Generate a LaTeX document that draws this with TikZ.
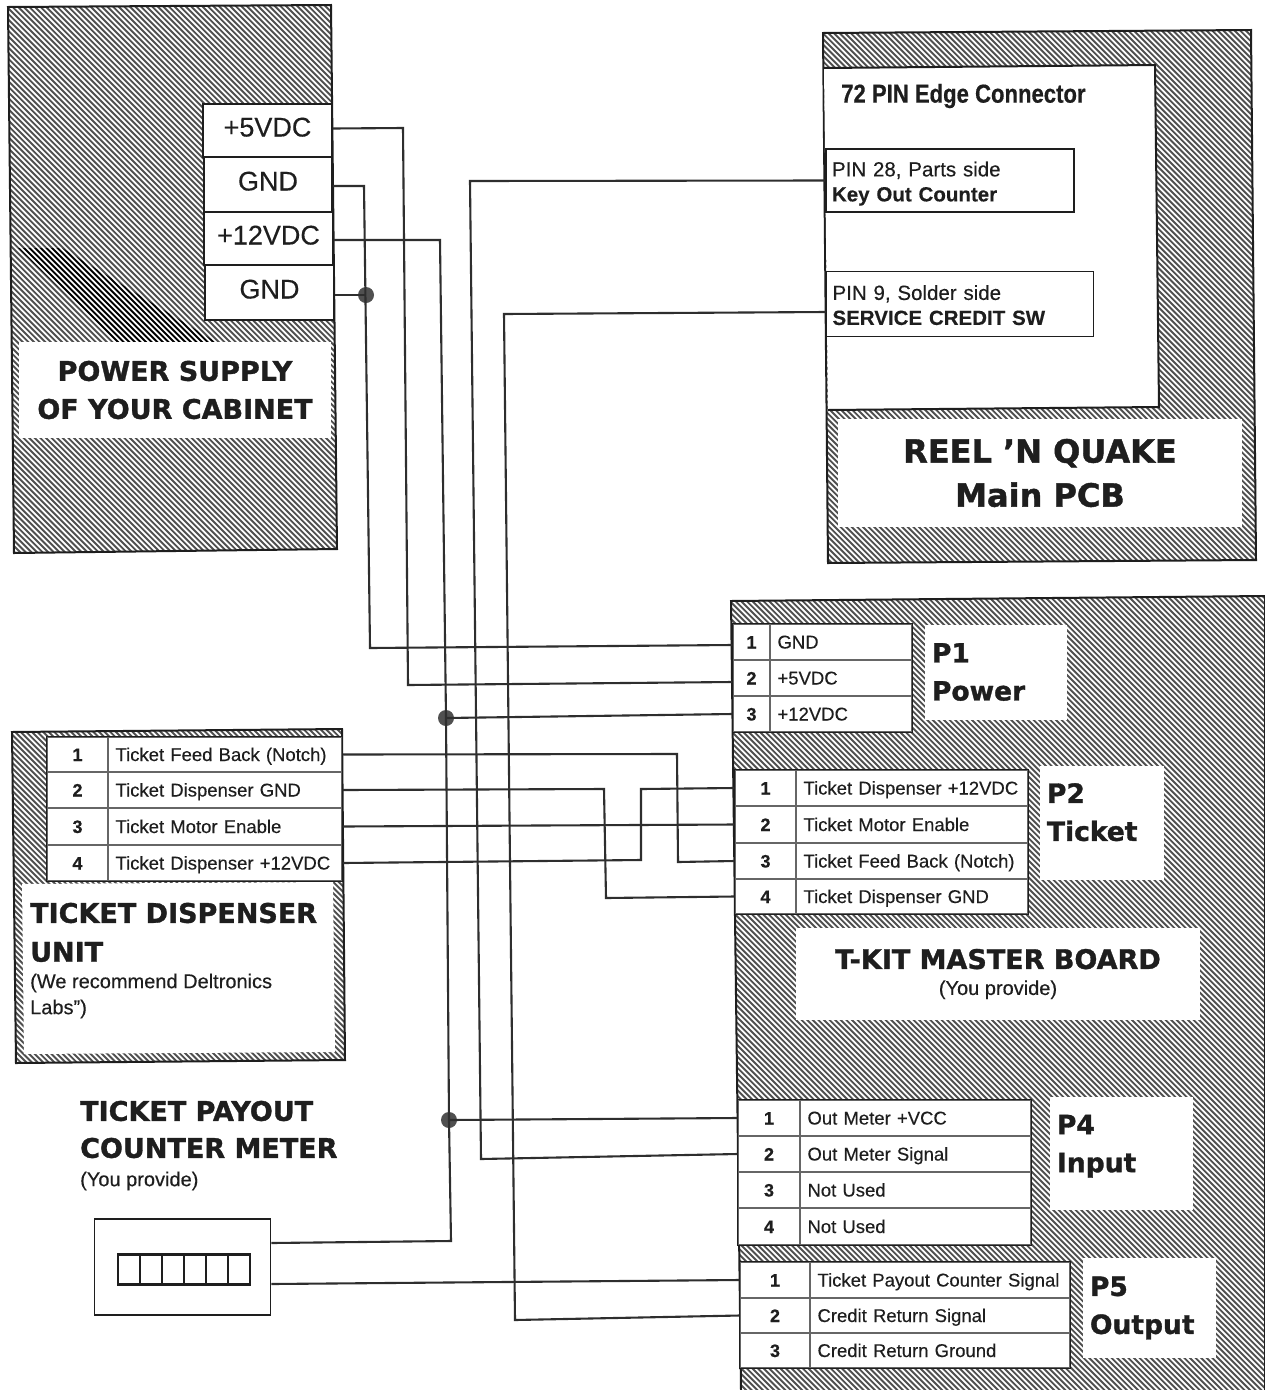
\documentclass[tikz,border=0pt]{standalone}
\usepackage{fontspec}
\setmainfont{Liberation Sans}[FakeBold=0.3]
\newfontfamily\heavyf{DejaVu Sans}[BoldFeatures={FakeBold=1.2}]
\newfontfamily\narrowf{Liberation Sans}[FakeStretch=0.85,BoldFeatures={FakeBold=0.5}]
\definecolor{ink}{HTML}{1E1E1E}
\definecolor{wire}{HTML}{2E2E2E}
\definecolor{hatchc}{HTML}{505050}
\tikzset{
  x=1pt,y=-1pt,
  every node/.style={text=ink},
  hatchline/.style={hatchc,line width=1.9pt},
  darkline/.style={black,line width=1.6pt},
  panelborder/.style={draw=ink,line width=2pt},
  wireline/.style={wire,line width=2.1pt,line join=miter},
  junction/.style={circle,fill=hatchc,draw=none,minimum size=16pt,inner sep=0pt},
  numcell/.style={draw=gray!80!black,fill=white,line width=1.2pt,inner sep=0pt,font=\bfseries\fontsize{18}{20}\selectfont,text height=13pt,text depth=0pt},
  labcell/.style={draw=gray!80!black,fill=white,line width=1.2pt,inner ysep=0pt,inner xsep=7.5pt,align=left,font=\fontsize{18.5}{20}\selectfont,text height=13pt,text depth=0pt},
  tableframe/.style={draw=ink,line width=1.7pt},
  termcell/.style={draw=ink,fill=white,line width=1.6pt,inner sep=0pt,font=\fontsize{27}{30}\selectfont,text height=19pt,text depth=7pt},
  pinbox/.style={draw=ink,fill=white,line width=1.8pt,inner ysep=0pt,inner xsep=6pt,align=left,font=\fontsize{20.5}{25}\selectfont},
  titlebox/.style={fill=white,inner sep=0pt,align=center,font=\heavyf\bfseries\fontsize{27}{38}\selectfont},
  sidebox/.style={fill=white,inner ysep=0pt,inner xsep=7pt,align=left,font=\heavyf\bfseries\fontsize{26.5}{38}\selectfont},
  bighead/.style={anchor=west,inner sep=0pt,font=\heavyf\bfseries\fontsize{27}{38}\selectfont},
  subhead/.style={anchor=west,inner sep=0pt,align=left,font=\fontsize{20}{26}\selectfont},
  plainbox/.style={draw=ink,fill=white,line width=1.8pt,inner sep=0pt},
}
\newcommand\hatcharea[1]{%
  \begin{scope}
    \clip #1;
    \foreach \k in {-1400,-1394.4,...,1300}
      \draw[hatchline] (\k,0) -- ++(1400,1400);
  \end{scope}
}
% name, x0, xmid, x1, y0, y1, number, label
\newcommand\trow[8]{%
  \pgfmathsetmacro\wa{#3-#2}%
  \pgfmathsetmacro\wb{#4-#3}%
  \pgfmathsetmacro\tw{#4-#3-15}%
  \pgfmathsetmacro\hh{#6-#5}%
  \pgfmathsetmacro\ca{(#2+#3)/2}%
  \pgfmathsetmacro\cb{(#3+#4)/2}%
  \pgfmathsetmacro\cc{(#5+#6)/2}%
  \node[numcell,minimum width=\wa pt,minimum height=\hh pt] (#1n) at (\ca,\cc) {#7};
  \node[labcell,text width=\tw pt,minimum height=\hh pt] (#1l) at (\cb,\cc) {#8};
}
\begin{document}
\begin{tikzpicture}
\useasboundingbox[fill=white] (0,0) rectangle (1265,1390);

%% ---------- hatched panels
\hatcharea{(8,7)--(331,5)--(337,549)--(14,553)--cycle}
\begin{scope}
  \clip (18,248)--(62,248)--(216,342)--(115,342)--cycle;
  \foreach \k in {-1400,-1394.4,...,1300}
    \draw[darkline] (\k,0) -- ++(1400,1400);
\end{scope}
\draw[panelborder] (8,7)--(331,5)--(337,549)--(14,553)--cycle;

\hatcharea{(823,33)--(1251,30)--(1256,560)--(828,563)--cycle}
\draw[panelborder] (823,33)--(1251,30)--(1256,560)--(828,563)--cycle;
\fill[white] (824,68)--(1155,65)--(1159,407)--(828,410)--cycle;
\draw[panelborder] (824,68)--(1155,65)--(1159,407)--(828,410);

\hatcharea{(12,732)--(342,729)--(345,1060)--(16,1063)--cycle}
\draw[panelborder] (12,732)--(342,729)--(345,1060)--(16,1063)--cycle;
\fill[white] (22,884)--(333,882)--(335,1052)--(24,1054)--cycle;

\hatcharea{(731,601)--(1265,596)--(1265,1390)--(741,1390)--cycle}
\draw[panelborder] (741,1390)--(731,601)--(1265,596)--(1265,1390);

%% ---------- power supply
\node[termcell,minimum width=129pt,minimum height=53pt] (s5) at (267.5,130.5) {+5VDC};
\node[termcell,minimum width=128pt,minimum height=55pt] (g1) at (268,184.5) {GND};
\node[termcell,minimum width=129pt,minimum height=53pt] (s12) at (268.5,238.5) {+12VDC};
\node[termcell,minimum width=129pt,minimum height=55pt] (g2) at (269.5,292.5) {GND};
\node[titlebox,minimum width=312pt,minimum height=96pt] (psu) at (175,390) {POWER SUPPLY\\OF YOUR CABINET};

%% ---------- main PCB
\node[inner sep=0pt,anchor=west,font=\narrowf\bfseries\fontsize{26}{30}\selectfont] (edge) at (841,96) {72 PIN Edge Connector};
\node[pinbox,text width=236pt,minimum height=63pt] (pin28) at (950,180.5) {\rule{0pt}{21pt}PIN 28, Parts side\\\textbf{Key Out Counter}};
\node[pinbox,text width=255pt,minimum height=65pt] (pin9) at (960,304) {\rule{0pt}{17pt}PIN 9, Solder side\\\textbf{SERVICE CREDIT SW}};
\node[titlebox,minimum width=404pt,minimum height=108pt,font=\heavyf\bfseries\fontsize{32}{44}\selectfont] (reel) at (1040,473) {REEL ’N QUAKE\\Main PCB};

%% ---------- P1
\trow{pa}{733}{770}{912}{624}{660}{1}{GND}
\trow{pb}{733}{770}{912}{660}{696}{2}{+5VDC}
\trow{pc}{733}{770}{912}{696}{732}{3}{+12VDC}
\draw[tableframe] (pan.north west) rectangle (pcl.south east);
\node[sidebox,text width=128pt,minimum height=95pt] (p1t) at (996,672) {P1\\Power};

%% ---------- P2
\trow{qa}{735}{796}{1028}{770}{806}{1}{Ticket Dispenser +12VDC}
\trow{qb}{735}{796}{1028}{806}{843}{2}{Ticket Motor Enable}
\trow{qc}{735}{796}{1028}{843}{879}{3}{Ticket Feed Back (Notch)}
\trow{qd}{735}{796}{1028}{879}{914}{4}{Ticket Dispenser GND}
\draw[tableframe] (qan.north west) rectangle (qdl.south east);
\node[sidebox,text width=110pt,minimum height=114pt] (p2t) at (1102,823) {P2\\Ticket\rule[-22pt]{0pt}{22pt}};

%% ---------- T-KIT label
\node[fill=white,minimum width=404pt,minimum height=92pt,inner sep=0pt,align=center,font=\fontsize{20}{26}\selectfont] (tkit) at (998,974) {{\heavyf\bfseries\fontsize{27}{31}\selectfont T-KIT MASTER BOARD}\\(You provide)};

%% ---------- P4
\trow{ra}{738}{800}{1031}{1100}{1136}{1}{Out Meter +VCC}
\trow{rb}{738}{800}{1031}{1136}{1172}{2}{Out Meter Signal}
\trow{rc}{738}{800}{1031}{1172}{1208}{3}{Not Used}
\trow{rd}{738}{800}{1031}{1208}{1245}{4}{Not Used}
\draw[tableframe] (ran.north west) rectangle (rdl.south east);
\node[sidebox,text width=129pt,minimum height=113pt] (p4t) at (1121.5,1153.5) {P4\\Input\rule[-20pt]{0pt}{20pt}};

%% ---------- P5
\trow{ua}{740}{810}{1070}{1262}{1298}{1}{Ticket Payout Counter Signal}
\trow{ub}{740}{810}{1070}{1298}{1333}{2}{Credit Return Signal}
\trow{uc}{740}{810}{1070}{1333}{1368}{3}{Credit Return Ground}
\draw[tableframe] (uan.north west) rectangle (ucl.south east);
\node[sidebox,text width=119pt,minimum height=100pt] (p5t) at (1149.5,1308) {P5\\Output};

%% ---------- ticket dispenser
\trow{ta}{47}{108}{342}{737}{772}{1}{Ticket Feed Back (Notch)}
\trow{tb}{47}{108}{342}{772}{808}{2}{Ticket Dispenser GND}
\trow{tc}{47}{108}{342}{808}{845}{3}{Ticket Motor Enable}
\trow{td}{47}{108}{342}{845}{881}{4}{Ticket Dispenser +12VDC}
\draw[tableframe] (tan.north west) rectangle (tdl.south east);
\node[bighead] (tdu1) at (30,913) {TICKET DISPENSER};
\node[bighead] (tdu2) at (30,952) {UNIT};
\node[subhead] (tdu3) at (30,996) {(We recommend Deltronics\\Labs")};

%% ---------- counter meter
\node[bighead] (tpc1) at (80,1111) {TICKET PAYOUT};
\node[bighead] (tpc2) at (80,1148) {COUNTER METER};
\node[subhead] (tpc3) at (80,1181) {(You provide)};
\node[plainbox,minimum width=176pt,minimum height=96pt] (meter) at (182.5,1267) {};
\node[plainbox,line width=2.4pt,minimum width=132pt,minimum height=30pt] (digits) at (184,1269.5) {};
\foreach \dx in {-44,-22,0,22,44}
  \draw[ink,line width=1.8pt] ([xshift=\dx pt]digits.north) -- ([xshift=\dx pt]digits.south);

%% ---------- junctions
\node[junction] (j1) at (366,295) {};
\node[junction] (j2) at (446,718) {};
\node[junction] (j3) at (449,1120) {};

%% ---------- bends
\coordinate (c5a) at (403,128);
\coordinate (c5b) at (408,685);
\coordinate (cga) at (364,186);
\coordinate (cgb) at (370,648);
\coordinate (c12a) at (440,240);
\coordinate (c12b) at (451,1241);
\coordinate (c28a) at (470,181);
\coordinate (c28b) at (481,1159);
\coordinate (c9a) at (504,314);
\coordinate (c9b) at (515,1320);
\coordinate (cfa) at (677,754);
\coordinate (cfb) at (678,862);
\coordinate (cda) at (604,789);
\coordinate (cdb) at (606,898);
\coordinate (cva) at (641,860);
\coordinate (cvb) at (641,789);

%% ---------- wires
\draw[wireline] ([yshift=2pt]s5.east) -- (c5a) -- (c5b) -- ([yshift=-4pt]pbn.west);
\draw[wireline] ([yshift=-1.5pt]g1.east) -- (cga) -- (cgb) -- ([yshift=-3pt]pan.west);
\draw[wireline] ([yshift=-2.5pt]g2.east) -- (j1.center);
\draw[wireline] ([yshift=-1.5pt]s12.east) -- (c12a) -- (j2.center) -- (j3.center) -- (c12b) -- ([yshift=24pt]meter.east);
\draw[wireline] (j2.center) -- (pcn.west);
\draw[wireline] (j3.center) -- (ran.west);
\draw[wireline] (pin28.west) -- (c28a) -- (c28b) -- (rbn.west);
\draw[wireline] ([yshift=-8pt]pin9.west) -- (c9a) -- (c9b) -- (ubn.west);
\draw[wireline] (tal.east) -- (cfa) -- (cfb) -- (qcn.west);
\draw[wireline] (tbl.east) -- (cda) -- (cdb) -- (qdn.west);
\draw[wireline] (tcl.east) -- (qbn.west);
\draw[wireline] (tdl.east) -- (cva) -- (cvb) -- (qan.west);
\draw[wireline] ([yshift=-17pt]meter.east) -- (uan.west);
\end{tikzpicture}
\end{document}
